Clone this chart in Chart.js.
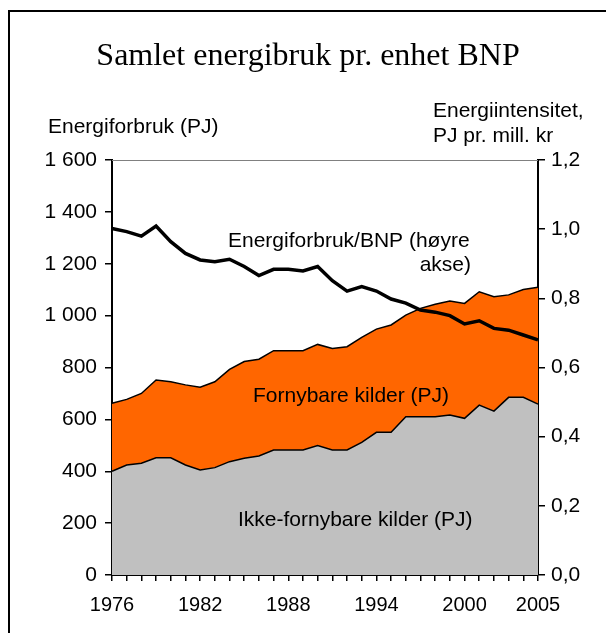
<!DOCTYPE html>
<html>
<head>
<meta charset="utf-8">
<script src="https://cdn.jsdelivr.net/npm/chart.js@4/dist/chart.umd.min.js"></script>
<style>
  body { margin: 0; background: #fff; }
  canvas { display: block; }
</style>
</head>
<body>
<canvas id="energyChart" width="606" height="633"></canvas>
<script>
const years = [1976, 1977, 1978, 1979, 1980, 1981, 1982, 1983, 1984, 1985,
               1986, 1987, 1988, 1989, 1990, 1991, 1992, 1993, 1994, 1995,
               1996, 1997, 1998, 1999, 2000, 2001, 2002, 2003, 2004, 2005];
const shownYears = [1976, 1982, 1988, 1994, 2000, 2005];

// Ikke-fornybare kilder (PJ)
const nonRenewable = [400, 424, 431, 452, 452, 424, 405, 414, 437, 450,
                      459, 482, 482, 482, 499, 482, 482, 511, 550, 550,
                      610, 610, 610, 617, 604, 655, 632, 685, 685, 659];
// Fornybare kilder (PJ), stacked on top
const renewable = [262, 253, 269, 300, 293, 309, 319, 331, 356, 373,
                   373, 383, 383, 383, 390, 391, 398, 405, 398, 414,
                   392, 418, 434, 439, 443, 437, 441, 395, 416, 450];
// Energiforbruk/BNP (PJ pr. mill. kr), right axis
const intensity = [1.002, 0.993, 0.980, 1.009, 0.964, 0.930, 0.911, 0.906, 0.913, 0.892,
                   0.866, 0.884, 0.884, 0.879, 0.892, 0.851, 0.821, 0.834, 0.821, 0.798,
                   0.786, 0.766, 0.760, 0.750, 0.726, 0.735, 0.713, 0.708, 0.694, 0.680];

Chart.defaults.font.family = "'Liberation Sans', Arial, sans-serif";
Chart.defaults.font.size = 21;
Chart.defaults.color = "#000";

// frame, title, axis titles and labels inside the plot
const decorations = {
  id: "decorations",
  afterDraw(chart) {
    const ctx = chart.ctx;
    const area = chart.chartArea;
    ctx.save();
    ctx.strokeStyle = "#000";
    ctx.lineWidth = 2;
    ctx.strokeRect(9, 11, 700, 700);

    ctx.strokeStyle = "#808080";
    ctx.lineWidth = 1;
    ctx.beginPath();
    ctx.moveTo(area.left, area.top + 0.5);
    ctx.lineTo(area.right, area.top + 0.5);
    ctx.stroke();

    ctx.fillStyle = "#000";
    ctx.textBaseline = "middle";
    ctx.font = "32px 'Liberation Serif', 'Times New Roman', serif";
    ctx.textAlign = "center";
    ctx.fillText("Samlet energibruk pr. enhet BNP", 308, 57);

    ctx.font = "21px 'Liberation Sans', Arial, sans-serif";
    ctx.textAlign = "left";
    ctx.fillText("Energiforbruk (PJ)", 48, 127);
    ctx.fillText("Energiintensitet,", 433, 111);
    ctx.fillText("PJ pr. mill. kr", 433, 136);

    ctx.fillText("Energiforbruk/BNP (høyre", 228, 241);
    ctx.textAlign = "right";
    ctx.fillText("akse)", 471, 265);
    ctx.textAlign = "left";
    ctx.fillText("Fornybare kilder (PJ)", 253, 396);
    ctx.fillText("Ikke-fornybare kilder (PJ)", 238, 520);
    ctx.restore();
  }
};

new Chart(document.getElementById("energyChart"), {
  type: "line",
  data: {
    labels: years,
    datasets: [
      {
        label: "Energiforbruk/BNP",
        data: intensity,
        yAxisID: "y2",
        borderColor: "#000",
        borderWidth: 3.5,
        pointRadius: 0,
        fill: false,
        tension: 0
      },
      {
        label: "Ikke-fornybare kilder (PJ)",
        data: nonRenewable,
        yAxisID: "y",
        stack: "energy",
        borderColor: "#000",
        borderWidth: 1.5,
        backgroundColor: "#C0C0C0",
        pointRadius: 0,
        fill: "origin",
        tension: 0
      },
      {
        label: "Fornybare kilder (PJ)",
        data: renewable,
        yAxisID: "y",
        stack: "energy",
        borderColor: "#000",
        borderWidth: 1.5,
        backgroundColor: "#FF6600",
        pointRadius: 0,
        fill: "-1",
        tension: 0
      }
    ]
  },
  options: {
    responsive: false,
    animation: false,
    devicePixelRatio: 1,
    layout: { padding: { top: 160, bottom: 0, left: 0, right: 0 } },
    plugins: {
      legend: { display: false },
      title: { display: false },
      tooltip: { enabled: false }
    },
    scales: {
      x: {
        type: "category",
        offset: false,
        afterFit(scale) { scale.height = 58; },
        border: { display: true, color: "#000", width: 2 },
        grid: { drawOnChartArea: false, drawTicks: true, tickLength: 6, color: "#000", lineWidth: 1.5 },
        ticks: {
          autoSkip: false,
          maxRotation: 0,
          padding: 12,
          font: { size: 20 },
          callback(value) {
            const year = years[value];
            return shownYears.includes(year) ? String(year) : "";
          }
        }
      },
      y: {
        position: "left",
        stacked: true,
        min: 0,
        max: 1600,
        afterFit(scale) { scale.width = 112; },
        border: { display: true, color: "#000", width: 2 },
        grid: { drawOnChartArea: false, drawTicks: true, tickLength: 7, color: "#000", lineWidth: 1.5 },
        ticks: {
          stepSize: 200,
          padding: 8,
          callback(value) {
            return value >= 1000 ? Math.floor(value / 1000) + " " + String(value % 1000).padStart(3, "0") : String(value);
          }
        }
      },
      y2: {
        position: "right",
        min: 0,
        max: 1.2,
        afterFit(scale) { scale.width = 68; },
        border: { display: true, color: "#000", width: 2 },
        grid: { drawOnChartArea: false, drawTicks: true, tickLength: 7, color: "#000", lineWidth: 1.5 },
        ticks: {
          stepSize: 0.2,
          padding: 6,
          callback(value) { return value.toFixed(1).replace(".", ","); }
        }
      }
    }
  },
  plugins: [decorations]
});
</script>
</body>
</html>
